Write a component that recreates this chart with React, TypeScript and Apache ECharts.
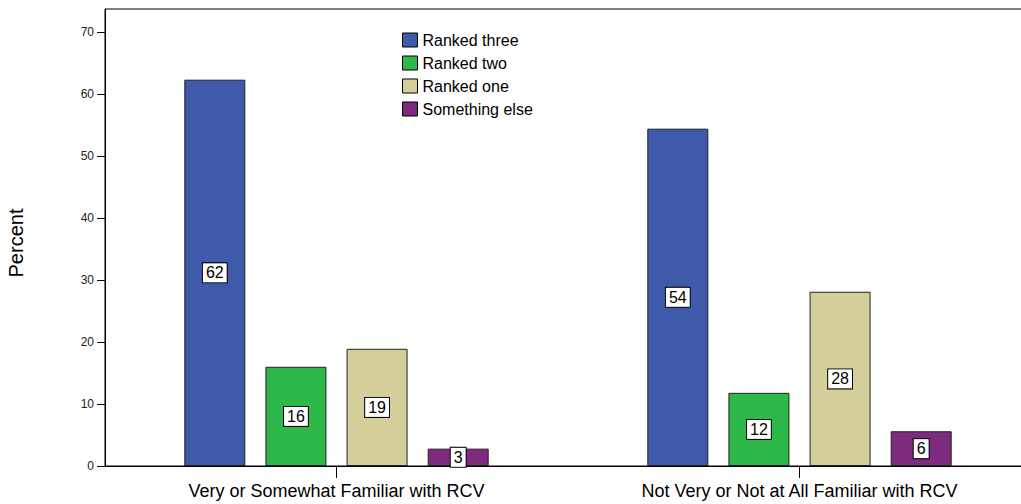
import React, { useEffect, useRef } from "react";
import * as echarts from "echarts";

const categories = [
  "Very or Somewhat Familiar with RCV",
  "Not Very or Not at All Familiar with RCV",
];
const seriesNames = ["Ranked three", "Ranked two", "Ranked one", "Something else"];
const rankedThree = [62.3, 54.4];
const rankedTwo = [16.0, 11.8];
const rankedOne = [18.9, 28.1];
const somethingElse = [2.8, 5.6];
const yTicks = [0, 10, 20, 30, 40, 50, 60, 70];
const colors = ["#3F59AB", "#2FB84A", "#D4CF9A", "#7E2A7E"];

export default function App() {
  const ref = useRef<HTMLDivElement>(null);
  useEffect(() => {
    if (!ref.current) return;
    const chart = echarts.init(ref.current, null, { renderer: "svg" });
    const values = [rankedThree, rankedTwo, rankedOne, somethingElse];
    chart.setOption({
      animation: false,
      textStyle: { fontFamily: "Liberation Sans, Arial, sans-serif" },
      grid: {
        left: 105,
        top: 9,
        width: 926,
        bottom: 38,
        outerBoundsMode: "none",
        containLabel: false,
        show: true,
        borderColor: "#000",
        borderWidth: 1,
        backgroundColor: "#fff",
      },
      legend: {
        orient: "vertical",
        left: 397,
        top: 27,
        itemWidth: 15,
        itemHeight: 14,
        itemGap: 7,
        icon: "rect",
        itemStyle: { borderColor: "#000", borderWidth: 1 },
        textStyle: { fontSize: 16, color: "#000" },
        data: seriesNames,
      },
      xAxis: {
        type: "category",
        data: categories,
        axisLine: { show: true, lineStyle: { color: "#000", width: 1 } },
        axisTick: { show: true, alignWithLabel: true, length: 12, lineStyle: { color: "#000" } },
        axisLabel: { fontSize: 18, color: "#000", margin: 16 },
      },
      yAxis: {
        type: "value",
        min: 0,
        max: 73.7,
        interval: 10,
        name: "Percent",
        nameLocation: "middle",
        nameGap: 79,
        nameTextStyle: { fontSize: 20, color: "#000", padding: [0, 11, 0, 0] },
        splitLine: { show: false },
        axisLine: { show: true, lineStyle: { color: "#000" } },
        axisTick: { show: true, length: 8, customValues: yTicks, lineStyle: { color: "#000" } },
        axisLabel: { fontSize: 12, color: "#222", margin: 11, customValues: yTicks },
      },
      series: seriesNames.map((name, i) => ({
        name,
        type: "bar",
        data: values[i],
        barWidth: 61,
        barGap: "33%",
        itemStyle: { color: colors[i], borderColor: "#222", borderWidth: 1 },
        label: {
          show: true,
          position: "inside",
          formatter: (p: any) => String(Math.round(p.value)),
          color: "#000",
          fontSize: 16,
          backgroundColor: "#fff",
          borderColor: "#000",
          borderWidth: 1,
          padding: [2, 3, 1, 3],
        },
      })),
    });
    return () => chart.dispose();
  }, []);
  return <div ref={ref} style={{ width: 1021, height: 504, position: "absolute", left: 0, top: 0 }} />;
}
